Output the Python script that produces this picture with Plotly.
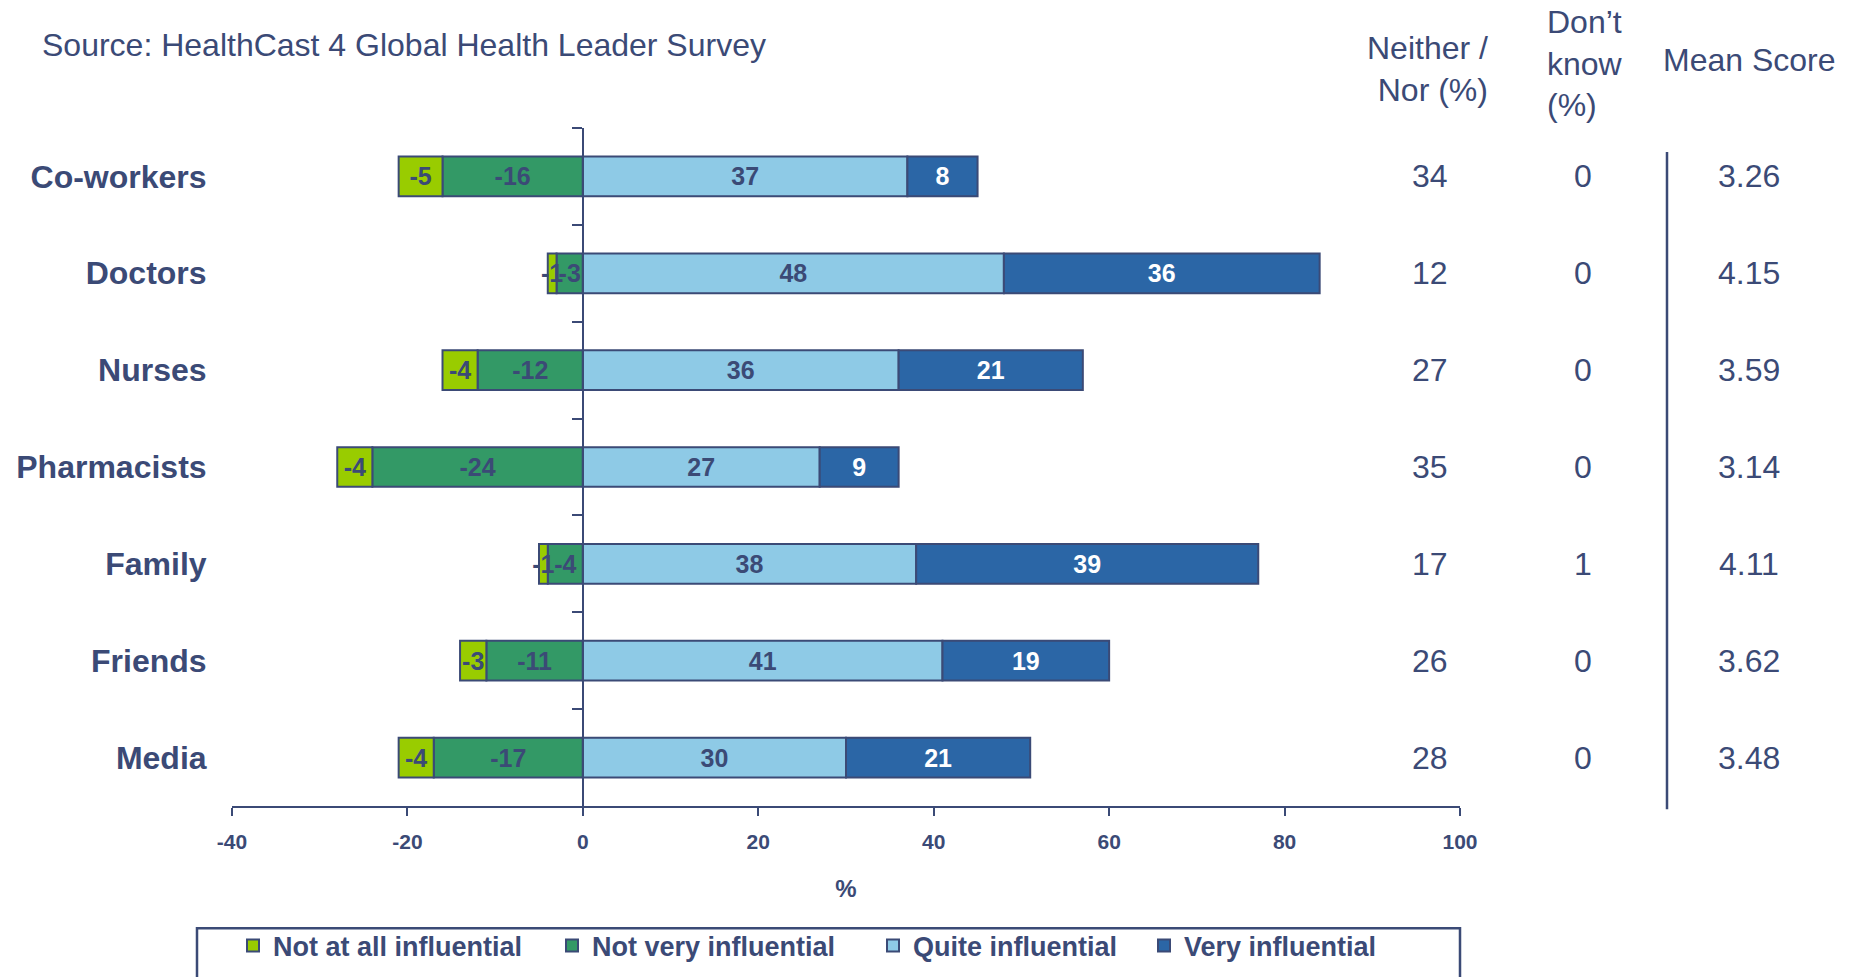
import plotly.graph_objects as go

# ---------------- data ----------------
categories = ["Co-workers", "Doctors", "Nurses", "Pharmacists", "Family", "Friends", "Media"]
not_at_all = [-5, -1, -4, -4, -1, -3, -4]
not_very = [-16, -3, -12, -24, -4, -11, -17]
quite = [37, 48, 36, 27, 38, 41, 30]
very = [8, 36, 21, 9, 39, 19, 21]
neither_nor = [34, 12, 27, 35, 17, 26, 28]
dont_know = [0, 0, 0, 0, 1, 0, 0]
mean_score = [3.26, 4.15, 3.59, 3.14, 4.11, 3.62, 3.48]
x_ticks = [-40, -20, 0, 20, 40, 60, 80, 100]
x_tick_labels = ["-40", "-20", "0", "20", "40", "60", "80", "100"]

# ---------------- style ----------------
NAVY = "#3B4A76"
FONT = "Arial, 'Liberation Sans', sans-serif"
W, H = 1858, 977
L, R_EDGE, T, B_EDGE = 232, 1460, 128, 805.7
XMIN, XMAX = x_ticks[0], x_ticks[-1]


def px(x):
    return (x - L) / (R_EDGE - L)


def py(y):
    return (B_EDGE - y) / (B_EDGE - T)


fig = go.Figure()

series = [
    ("Not very influential", not_very, "#339966", NAVY, 2, 276),
    ("Not at all influential", not_at_all, "#99CC00", NAVY, 1, 274),
    ("Quite influential", quite, "#8ECAE6", NAVY, 3, 226),
    ("Very influential", very, "#2B66A6", "white", 4, 200),
]
for name, vals, color, tcol, rank, lw in series:
    fig.add_trace(go.Bar(
        y=categories, x=vals, name=name, orientation="h",
        marker=dict(color=color, line=dict(color=NAVY, width=2)),
        text=[str(v) for v in vals], textposition="inside",
        insidetextanchor="middle", constraintext="none", textangle=0,
        insidetextfont=dict(family=FONT, size=25, color=tcol, weight="bold"),
        legendrank=rank, legendwidth=lw, hoverinfo="skip",
    ))

# invisible trace to carry the central category axis (at x = 0)
fig.add_trace(go.Scatter(
    x=[0] * len(categories), y=categories, yaxis="y2", mode="markers",
    marker=dict(opacity=0), showlegend=False, hoverinfo="skip",
))

TXT = 32
annotations = [
    dict(text="Source: HealthCast 4 Global Health Leader Survey",
         x=px(40), y=py(45), xref="paper", yref="paper",
         xanchor="left", yanchor="middle", showarrow=False,
         font=dict(size=32, color=NAVY)),
    dict(text="Neither /<br>Nor (%)", x=px(1490), y=py(69), xref="paper", yref="paper",
         xanchor="right", yanchor="middle", align="right", showarrow=False,
         font=dict(size=TXT, color=NAVY)),
    dict(text="Don’t<br>know<br>(%)", x=px(1545), y=py(64), xref="paper", yref="paper",
         xanchor="left", yanchor="middle", align="left", showarrow=False,
         font=dict(size=TXT, color=NAVY)),
    dict(text="Mean Score", x=px(1749), y=py(60), xref="paper", yref="paper",
         xanchor="center", yanchor="middle", showarrow=False,
         font=dict(size=TXT, color=NAVY)),
]
for i, cat in enumerate(categories):
    annotations.append(dict(text=str(neither_nor[i]), x=px(1430), y=cat, xref="paper", yref="y",
                            xanchor="center", yanchor="middle", showarrow=False,
                            font=dict(size=TXT, color=NAVY)))
    annotations.append(dict(text=str(dont_know[i]), x=px(1583), y=cat, xref="paper", yref="y",
                            xanchor="center", yanchor="middle", showarrow=False,
                            font=dict(size=TXT, color=NAVY)))
    annotations.append(dict(text=f"{mean_score[i]:.2f}", x=px(1749), y=cat, xref="paper", yref="y",
                            xanchor="center", yanchor="middle", showarrow=False,
                            font=dict(size=TXT, color=NAVY)))

shapes = [
    dict(type="line", xref="paper", yref="paper", x0=px(1667), x1=px(1667),
         y0=py(809), y1=py(152), line=dict(color=NAVY, width=2.5)),
    dict(type="rect", xref="paper", yref="paper", x0=px(197), x1=px(1460),
         y0=py(992), y1=py(928), line=dict(color=NAVY, width=2.5),
         fillcolor="rgba(0,0,0,0)", layer="below"),
]

fig.update_layout(
    width=W, height=H,
    margin=dict(l=L, r=W - R_EDGE, t=T, b=H - B_EDGE, pad=0),
    barmode="relative", bargap=0.59,
    plot_bgcolor="white", paper_bgcolor="white",
    font=dict(family=FONT, color=NAVY),
    xaxis=dict(range=[XMIN, XMAX], tickvals=x_ticks, ticktext=x_tick_labels,
               showgrid=False, zeroline=False,
               showline=True, linecolor=NAVY, linewidth=2,
               ticks="outside", ticklen=8, tickwidth=2, tickcolor=NAVY,
               ticklabelstandoff=8,
               tickfont=dict(size=21, weight="bold", color=NAVY),
               title=dict(text="%", font=dict(size=24, weight="bold", color=NAVY), standoff=28)),
    yaxis=dict(type="category", categoryorder="array", categoryarray=categories,
               range=[len(categories) - 0.5, -0.5], showgrid=False, zeroline=False,
               showline=False, ticks="outside", ticklen=18, tickcolor="rgba(0,0,0,0)",
               tickfont=dict(size=32, weight="bold", color=NAVY)),
    yaxis2=dict(overlaying="y", anchor="free", position=(0 - XMIN) / (XMAX - XMIN), side="left",
                type="category", categoryorder="array", categoryarray=categories,
                range=[len(categories) - 0.5, -0.5], showgrid=False, zeroline=False,
                showline=True, linecolor=NAVY, linewidth=2,
                ticks="outside", tickson="boundaries", ticklen=10, tickwidth=2, tickcolor=NAVY,
                showticklabels=False),
    legend=dict(orientation="h", xref="container", yref="container",
                x=233 / W, y=1 - 946 / H, xanchor="left", yanchor="middle",
                font=dict(size=27, weight="bold", color=NAVY),
                bgcolor="rgba(0,0,0,0)", traceorder="normal"),
    annotations=annotations,
    shapes=shapes,
)

fig.write_html("out.html")
